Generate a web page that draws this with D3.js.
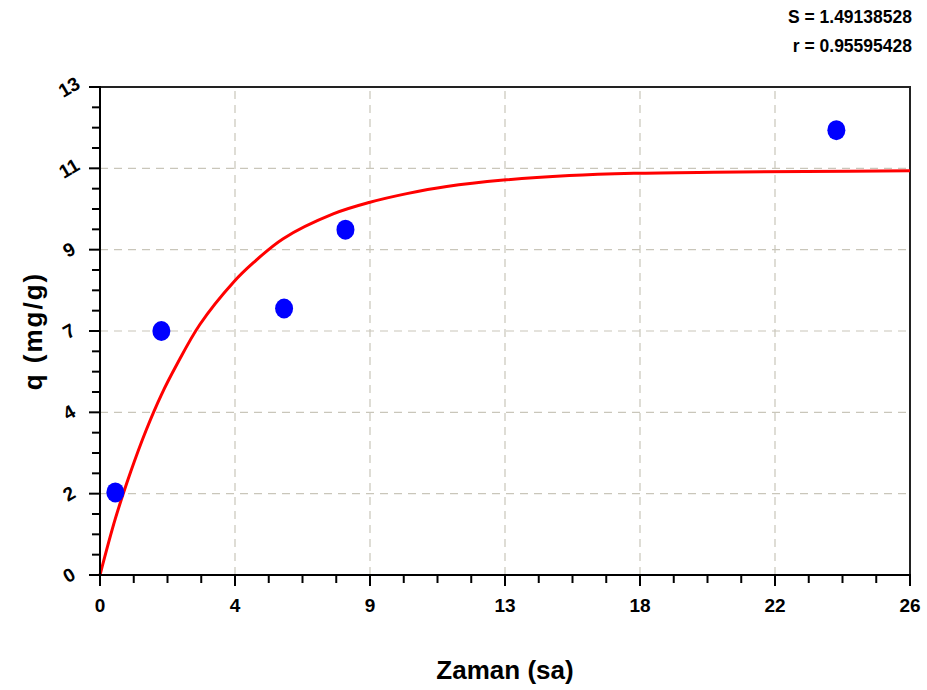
<!DOCTYPE html>
<html>
<head>
<meta charset="utf-8">
<script src="https://cdn.jsdelivr.net/npm/d3@7"></script>
<style>
  body { margin: 0; background: #fff; }
  text { font-family: "Liberation Sans", Arial, sans-serif; }
</style>
</head>
<body id="body">
<script>
// measured points
const zaman = [0.5, 2, 6, 8, 24];
const qValues = [2.2, 6.5, 7.1, 9.2, 11.85];

// fitted curve
const fitT = [0, 0.5, 1, 1.5, 2, 2.5, 3.26, 4.35, 5, 5.97, 7.6, 8.8, 10, 11.3, 13.15, 15.3, 17.4, 20, 23, 26.4];
const fitQ = [0, 1.5, 2.75, 3.85, 4.8, 5.6, 6.68, 7.8, 8.32, 8.96, 9.62, 9.93, 10.16, 10.35, 10.52, 10.64, 10.7, 10.73, 10.75, 10.77];

const stats = ["S = 1.49138528", "r = 0.95595428"];
const xMax = 26.4, yMax = 13;

const width = 927, height = 690;
const margin = { top: 87, right: 17, bottom: 115, left: 100 };

const svg = d3.select("body").append("svg")
  .attr("width", width)
  .attr("height", height);

const x = d3.scaleLinear().domain([0, xMax]).range([margin.left, width - margin.right]);
const y = d3.scaleLinear().domain([0, yMax]).range([height - margin.bottom, margin.top]);

const xMajor = d3.range(0, 7).map(i => xMax / 6 * i);
const xMinor = d3.range(0, 25).map(i => xMax / 24 * i).filter((d, i) => i % 4 !== 0);
const yMajor = d3.range(0, 7).map(i => yMax / 6 * i);
const yMinor = d3.range(0, 25).map(i => yMax / 24 * i).filter((d, i) => i % 4 !== 0);

// grid
const grid = svg.append("g")
  .attr("stroke", "#c9c6ba")
  .attr("stroke-width", 1.2)
  .attr("stroke-dasharray", "8,6");
grid.selectAll("line.v").data(xMajor.slice(1, -1)).join("line")
  .attr("x1", d => x(d)).attr("x2", d => x(d))
  .attr("y1", y(0)).attr("y2", y(yMax));
grid.selectAll("line.h").data(yMajor.slice(1, -1)).join("line")
  .attr("y1", d => y(d)).attr("y2", d => y(d))
  .attr("x1", x(0)).attr("x2", x(xMax));

// frame top/right
svg.append("path")
  .attr("d", `M${x(0)},${y(yMax)}H${x(xMax)}V${y(0)}`)
  .attr("fill", "none")
  .attr("stroke", "#222")
  .attr("stroke-width", 2);

// fitted curve
const line = d3.line()
  .x((d, i) => x(fitT[i]))
  .y((d, i) => y(fitQ[i]))
  .curve(d3.curveCatmullRom.alpha(0.5));

svg.append("path")
  .datum(fitT)
  .attr("d", line)
  .attr("fill", "none")
  .attr("stroke", "#ff0000")
  .attr("stroke-width", 3);

// points
svg.append("g")
  .selectAll("ellipse")
  .data(zaman)
  .join("ellipse")
  .attr("cx", d => x(d))
  .attr("cy", (d, i) => y(qValues[i]))
  .attr("rx", 9)
  .attr("ry", 10)
  .attr("fill", "#0000ff");

// x axis
const xAxis = svg.append("g").attr("transform", `translate(0,${y(0)})`);
xAxis.append("line")
  .attr("x1", x(0) - 1).attr("x2", x(xMax) + 1)
  .attr("stroke", "#000").attr("stroke-width", 2);
xAxis.selectAll("line.maj").data(xMajor).join("line")
  .attr("x1", d => x(d)).attr("x2", d => x(d))
  .attr("y1", 0).attr("y2", 11)
  .attr("stroke", "#000").attr("stroke-width", 2);
xAxis.selectAll("line.min").data(xMinor).join("line")
  .attr("x1", d => x(d)).attr("x2", d => x(d))
  .attr("y1", 0).attr("y2", 8)
  .attr("stroke", "#000").attr("stroke-width", 2);
xAxis.selectAll("text").data(xMajor).join("text")
  .attr("x", d => x(d))
  .attr("y", 37)
  .attr("text-anchor", "middle")
  .attr("font-size", 19)
  .attr("font-weight", "bold")
  .text(d => Math.round(d));

// y axis
const yAxis = svg.append("g").attr("transform", `translate(${x(0)},0)`);
yAxis.append("line")
  .attr("y1", y(0) + 1).attr("y2", y(yMax) - 1)
  .attr("stroke", "#000").attr("stroke-width", 2);
yAxis.selectAll("line.maj").data(yMajor).join("line")
  .attr("y1", d => y(d)).attr("y2", d => y(d))
  .attr("x1", 0).attr("x2", -11)
  .attr("stroke", "#000").attr("stroke-width", 2);
yAxis.selectAll("line.min").data(yMinor).join("line")
  .attr("y1", d => y(d)).attr("y2", d => y(d))
  .attr("x1", 0).attr("x2", -8)
  .attr("stroke", "#000").attr("stroke-width", 2);
yAxis.selectAll("text").data(yMajor).join("text")
  .attr("transform", d => `translate(-31,${y(d)}) rotate(-30)`)
  .attr("text-anchor", "middle")
  .attr("dy", "0.35em")
  .attr("font-size", 19)
  .attr("font-weight", "bold")
  .text(d => Math.round(d));

// axis titles
svg.append("text")
  .attr("x", (x(0) + x(xMax)) / 2)
  .attr("y", 679)
  .attr("text-anchor", "middle")
  .attr("font-size", 26)
  .attr("font-weight", "bold")
  .text("Zaman (sa)");

svg.append("text")
  .attr("transform", `translate(42,${(y(0) + y(yMax)) / 2}) rotate(-90)`)
  .attr("text-anchor", "middle")
  .attr("font-size", 26)
  .attr("font-weight", "bold")
  .attr("letter-spacing", 2)
  .text("q (mg/g)");

// stats
svg.selectAll("text.stat").data(stats).join("text")
  .attr("class", "stat")
  .attr("x", 912)
  .attr("y", (d, i) => 23 + i * 29)
  .attr("text-anchor", "end")
  .attr("font-size", 17.5)
  .attr("font-weight", "bold")
  .text(d => d);
</script>
</body>
</html>
